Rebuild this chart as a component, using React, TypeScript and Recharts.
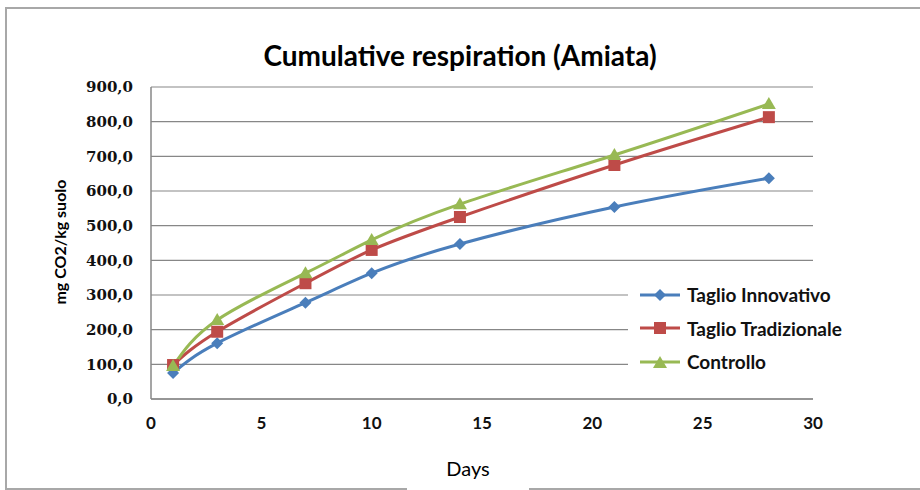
import React from 'react';
import { LineChart, Line, XAxis, YAxis, CartesianGrid } from 'recharts';

const days = [1, 3, 7, 10, 14, 21, 28];
const innovativo = [75, 161, 278, 363, 447, 554, 637];
const tradizionale = [98, 194, 334, 430, 525, 675, 813];
const controllo = [95, 228, 363, 459, 562, 704, 851];
const xTicks = [0, 5, 10, 15, 20, 25, 30];
const yTicks = [0, 100, 200, 300, 400, 500, 600, 700, 800, 900];

const seriesNames = ['Taglio Innovativo', 'Taglio Tradizionale', 'Controllo'];
const BLUE = '#4a7ebb';
const RED = '#be4b48';
const GREEN = '#98b954';

const data = days.map((d, i) => ({
  day: d,
  innovativo: innovativo[i],
  tradizionale: tradizionale[i],
  controllo: controllo[i],
}));

const Diamond = (props: any) => {
  const { cx, cy, fill } = props;
  if (cx == null || cy == null) return null;
  const s = 6;
  return <polygon points={`${cx},${cy - s} ${cx + s},${cy} ${cx},${cy + s} ${cx - s},${cy}`} fill={fill} />;
};
const Square = (props: any) => {
  const { cx, cy, fill } = props;
  if (cx == null || cy == null) return null;
  const s = 6;
  return <rect x={cx - s} y={cy - s} width={2 * s} height={2 * s} fill={fill} />;
};
const Triangle = (props: any) => {
  const { cx, cy, fill } = props;
  if (cx == null || cy == null) return null;
  return <polygon points={`${cx},${cy - 7} ${cx + 7},${cy + 5} ${cx - 7},${cy + 5}`} fill={fill} />;
};

const legendItems = [
  { name: seriesNames[0], color: BLUE, shape: 'diamond' },
  { name: seriesNames[1], color: RED, shape: 'square' },
  { name: seriesNames[2], color: GREEN, shape: 'triangle' },
];

const LegendBox = () => (
  <div style={{ position: 'absolute', left: 628, top: 278, background: '#fff', padding: '0 0 0 12px', width: 230 }}>
    {legendItems.map((it) => (
      <div key={it.name} style={{ display: 'flex', alignItems: 'center', height: 33.5 }}>
        <svg width={40} height={16} style={{ marginRight: 7, flex: 'none' }}>
          <line x1={0} y1={8} x2={40} y2={8} stroke={it.color} strokeWidth={3} />
          {it.shape === 'diamond' && <Diamond cx={20} cy={8} fill={it.color} />}
          {it.shape === 'square' && <Square cx={20} cy={8} fill={it.color} />}
          {it.shape === 'triangle' && <Triangle cx={20} cy={9} fill={it.color} />}
        </svg>
        <span style={{ fontFamily: 'Lato, sans-serif', fontWeight: 700, fontSize: 19, color: '#111', whiteSpace: 'nowrap' }}>{it.name}</span>
      </div>
    ))}
  </div>
);

const fmt = (v: number) => v.toFixed(1).replace('.', ',');

export default function App() {
  return (
    <div style={{ position: 'absolute', left: 0, top: 0, width: 920, height: 490, background: '#fff', overflow: 'hidden' }}>
      <div style={{ position: 'absolute', left: 5, top: 7, width: 930, height: 479, border: '2px solid #a8a8a8' }} />
      <div
        style={{
          position: 'absolute', left: 0, top: 39, width: 920, textAlign: 'center',
          fontFamily: 'Lato, sans-serif', fontWeight: 700, fontSize: 28, lineHeight: '32px', color: '#000',
        }}
      >
        Cumulative respiration (Amiata)
      </div>
      <div style={{ position: 'absolute', left: 60, top: 242, width: 0, height: 0 }}>
        <div
          style={{
            position: 'absolute', left: -100, top: -10, width: 200, height: 20, textAlign: 'center',
            transform: 'rotate(-90deg)', fontFamily: 'Lato, sans-serif', fontWeight: 700, fontSize: 16,
            lineHeight: '20px', color: '#000', whiteSpace: 'nowrap',
          }}
        >
          mg CO2/kg suolo
        </div>
      </div>
      <div style={{ position: 'absolute', left: 0, top: 0 }}>
        <LineChart width={920} height={490} data={data} margin={{ top: 87, right: 107, bottom: 61, left: 0 }}>
          <CartesianGrid vertical={false} stroke="#878787" strokeWidth={1.2} />
          <XAxis
            dataKey="day"
            type="number"
            domain={[0, 30]}
            ticks={xTicks}
            height={30}
            tickLine={false}
            tickSize={6}
            tickMargin={12}
            axisLine={{ stroke: '#878787', strokeWidth: 1.5 }}
            tick={{ fill: '#111', fontFamily: 'Lato, sans-serif', fontWeight: 700, fontSize: 17 }}
          />
          <YAxis
            type="number"
            domain={[0, 900]}
            ticks={yTicks}
            width={151}
            tickFormatter={fmt}
            tickLine={false}
            tickSize={6}
            tickMargin={12}
            axisLine={{ stroke: '#878787', strokeWidth: 1.5 }}
            tick={{ fill: '#111', fontFamily: 'DejaVu Serif, serif', fontWeight: 700, fontSize: 15 }}
          />
          <Line
            name={seriesNames[0]}
            type="natural"
            dataKey="innovativo"
            stroke={BLUE}
            strokeWidth={3}
            dot={<Diamond fill={BLUE} />}
            activeDot={false}
            isAnimationActive={false}
          />
          <Line
            name={seriesNames[1]}
            type="natural"
            dataKey="tradizionale"
            stroke={RED}
            strokeWidth={3}
            dot={<Square fill={RED} />}
            activeDot={false}
            isAnimationActive={false}
          />
          <Line
            name={seriesNames[2]}
            type="natural"
            dataKey="controllo"
            stroke={GREEN}
            strokeWidth={3}
            dot={<Triangle fill={GREEN} />}
            activeDot={false}
            isAnimationActive={false}
          />
        </LineChart>
      </div>
      <LegendBox />
      <div
        style={{
          position: 'absolute', left: 407, top: 455, width: 122, height: 36, background: '#fff',
          textAlign: 'center', fontFamily: 'Lato, sans-serif', fontSize: 20, lineHeight: '26px', color: '#000',
        }}
      >
        Days
      </div>
    </div>
  );
}
